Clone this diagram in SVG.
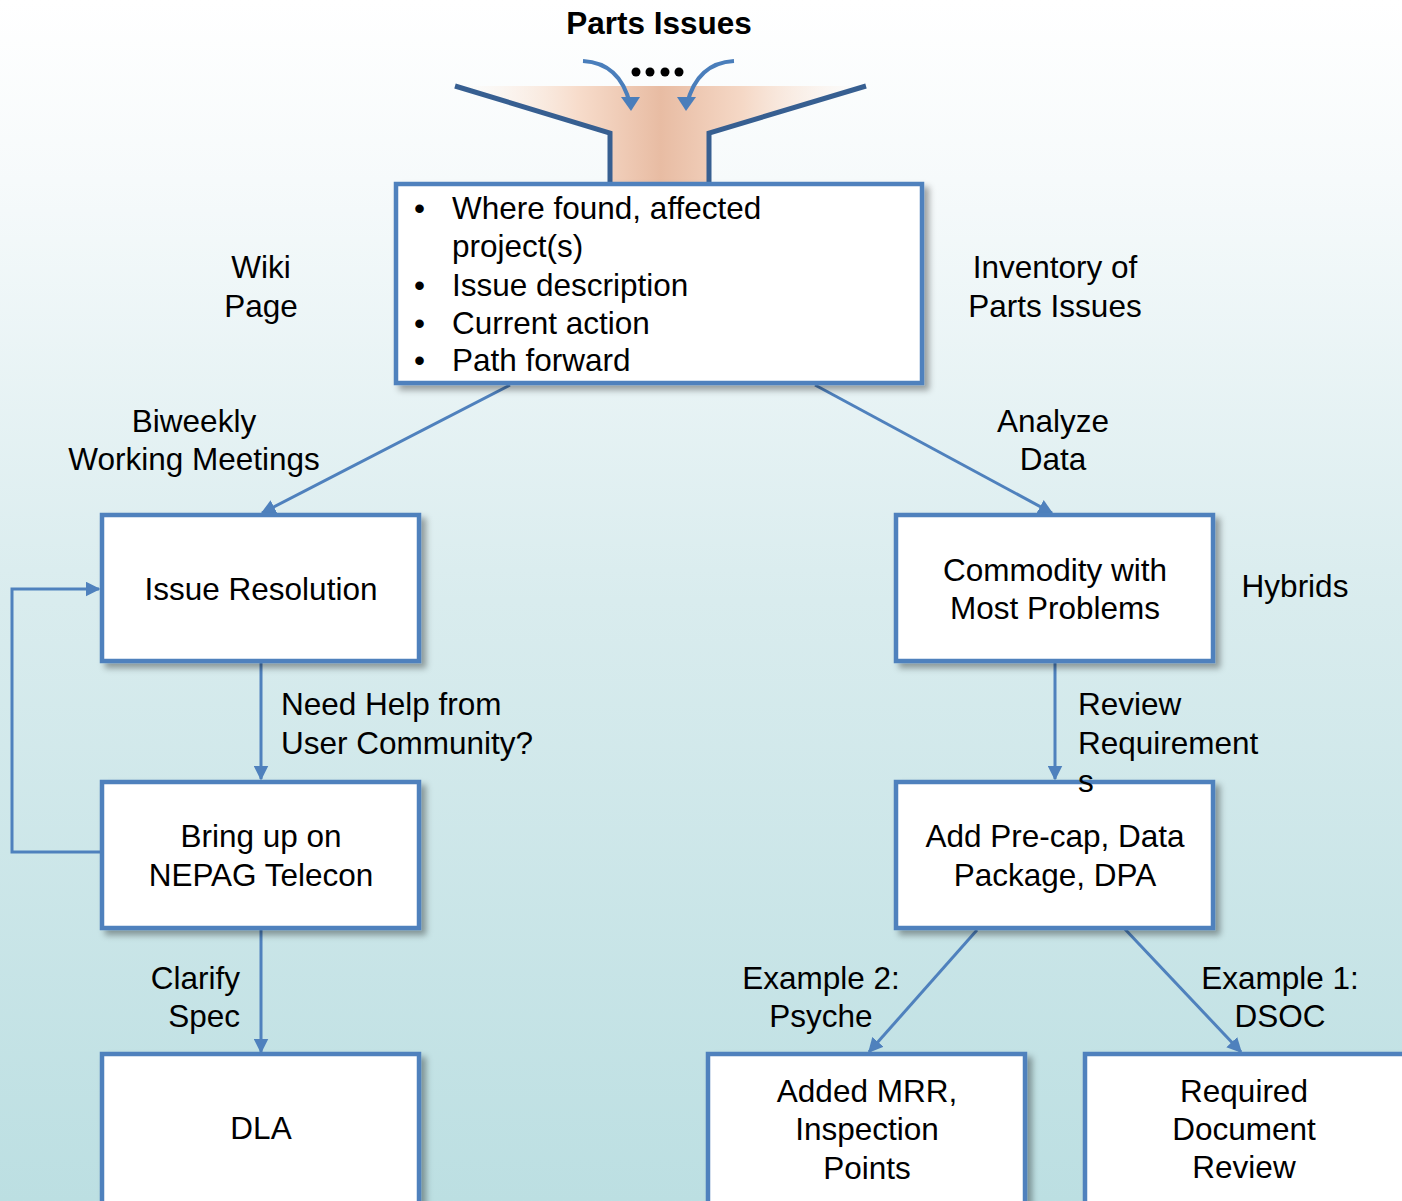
<svg xmlns="http://www.w3.org/2000/svg" width="1402" height="1201" viewBox="0 0 1402 1201">
<defs>
<linearGradient id="bg" x1="0" y1="0" x2="0" y2="1">
<stop offset="0" stop-color="#ffffff"/>
<stop offset="0.15" stop-color="#f6fafb"/>
<stop offset="0.5" stop-color="#d9ecee"/>
<stop offset="1" stop-color="#bcdfe2"/>
</linearGradient>
<linearGradient id="funnel" x1="0" y1="0" x2="1" y2="0">
<stop offset="0" stop-color="#fdf3ea" stop-opacity="0"/>
<stop offset="0.3" stop-color="#f7dccb"/>
<stop offset="0.5" stop-color="#e8bca3"/>
<stop offset="0.7" stop-color="#f5d8c6"/>
<stop offset="1" stop-color="#fdf0e6" stop-opacity="0"/>
</linearGradient>
<filter id="sh" x="-10%" y="-10%" width="130%" height="130%">
<feDropShadow dx="5" dy="5" stdDeviation="3" flood-color="#000" flood-opacity="0.35"/>
</filter>
<marker id="ah" viewBox="0 0 10 10" refX="9" refY="5" markerWidth="5" markerHeight="5" orient="auto" markerUnits="strokeWidth">
<path d="M0,0 L10,5 L0,10 z" fill="#4f81bd"/>
</marker>
</defs>
<style>
.box{fill:#ffffff;stroke:#4f81bd;stroke-width:4.5;filter:url(#sh)}
.t{font-family:"Liberation Sans",Arial,sans-serif;font-size:31.5px;fill:#000}
.c{text-anchor:middle}
.con{fill:none;stroke:#4f81bd;stroke-width:3;marker-end:url(#ah)}
</style>
<rect x="0" y="0" width="1402" height="1201" fill="url(#bg)"/>

<g id="funnel-top">
<polygon points="455,86 866,86 709,133 709,184 610,184 610,133" fill="url(#funnel)"/>
<polyline points="455,86 610,133 610,184" fill="none" stroke="#375f91" stroke-width="5"/>
<polyline points="866,86 709,133 709,184" fill="none" stroke="#375f91" stroke-width="5"/>
<path d="M583,61 Q620,63 630,104" fill="none" stroke="#4a7ebb" stroke-width="4"/>
<polygon points="621,97 640,97 631,111" fill="#4a7ebb"/>
<path d="M734,61 Q697,63 687,104" fill="none" stroke="#4a7ebb" stroke-width="4"/>
<polygon points="677,97 696,97 686,111" fill="#4a7ebb"/>
<circle cx="636" cy="72" r="4.5" fill="#000"/>
<circle cx="650" cy="72" r="4.5" fill="#000"/>
<circle cx="665" cy="72" r="4.5" fill="#000"/>
<circle cx="679" cy="72" r="4.5" fill="#000"/>
<text class="t c" x="659" y="34" font-weight="bold">Parts Issues</text>
</g>

<g id="connectors">
<line class="con" x1="510" y1="385" x2="262" y2="513"/>
<line class="con" x1="815" y1="385" x2="1052" y2="513"/>
<line class="con" x1="261" y1="662" x2="261" y2="779"/>
<line class="con" x1="261" y1="929" x2="261" y2="1052"/>
<line class="con" x1="1055" y1="662" x2="1055" y2="779"/>
<line class="con" x1="977" y1="930" x2="869" y2="1052"/>
<line class="con" x1="1122" y1="926" x2="1241" y2="1052"/>
<polyline class="con" points="101,852 12,852 12,589 99,589"/>
</g>

<g id="node-info">
<rect class="box" x="396" y="184" width="526" height="199"/>
<text class="t" x="414" y="219">•</text><text class="t" x="452" y="219">Where found, affected</text>
<text class="t" x="452" y="257">project(s)</text>
<text class="t" x="414" y="296">•</text><text class="t" x="452" y="296">Issue description</text>
<text class="t" x="414" y="334">•</text><text class="t" x="452" y="334">Current action</text>
<text class="t" x="414" y="371">•</text><text class="t" x="452" y="371">Path forward</text>
</g>

<g id="node-issue-resolution">
<rect class="box" x="102" y="515" width="317" height="146"/>
<text class="t c" x="261" y="600">Issue Resolution</text>
</g>
<g id="node-bring-up">
<rect class="box" x="102" y="782" width="317" height="146"/>
<text class="t c" x="261" y="847">Bring up on</text>
<text class="t c" x="261" y="886">NEPAG Telecon</text>
</g>
<g id="node-dla">
<rect class="box" x="102" y="1054" width="317" height="160"/>
<text class="t c" x="261" y="1139">DLA</text>
</g>
<g id="node-commodity">
<rect class="box" x="896" y="515" width="317" height="146"/>
<text class="t c" x="1055" y="581">Commodity with</text>
<text class="t c" x="1055" y="619">Most Problems</text>
</g>
<g id="node-precap">
<rect class="box" x="896" y="782" width="317" height="146"/>
<text class="t c" x="1055" y="847">Add Pre-cap, Data</text>
<text class="t c" x="1055" y="886">Package, DPA</text>
</g>
<g id="node-mrr">
<rect class="box" x="708" y="1054" width="317" height="160"/>
<text class="t c" x="867" y="1102">Added MRR,</text>
<text class="t c" x="867" y="1140">Inspection</text>
<text class="t c" x="867" y="1179">Points</text>
</g>
<g id="node-docreview">
<rect class="box" x="1085" y="1054" width="320" height="160"/>
<text class="t c" x="1244" y="1102">Required</text>
<text class="t c" x="1244" y="1140">Document</text>
<text class="t c" x="1244" y="1178">Review</text>
</g>

<g id="labels">
<text class="t c" x="261" y="278">Wiki</text>
<text class="t c" x="261" y="317">Page</text>
<text class="t c" x="1055" y="278">Inventory of</text>
<text class="t c" x="1055" y="317">Parts Issues</text>
<text class="t c" x="194" y="432">Biweekly</text>
<text class="t c" x="194" y="470">Working Meetings</text>
<text class="t c" x="1053" y="432">Analyze</text>
<text class="t c" x="1053" y="470">Data</text>
<text class="t" x="281" y="715">Need Help from</text>
<text class="t" x="281" y="754">User Community?</text>
<text class="t c" x="1295" y="597">Hybrids</text>
<text class="t" x="1078" y="715">Review</text>
<text class="t" x="1078" y="754">Requirement</text>
<text class="t" x="1078" y="792">s</text>
<text class="t" x="240" y="989" text-anchor="end">Clarify</text>
<text class="t" x="240" y="1027" text-anchor="end">Spec</text>
<text class="t c" x="821" y="989">Example 2:</text>
<text class="t c" x="821" y="1027">Psyche</text>
<text class="t c" x="1280" y="989">Example 1:</text>
<text class="t c" x="1280" y="1027">DSOC</text>
</g>
</svg>
